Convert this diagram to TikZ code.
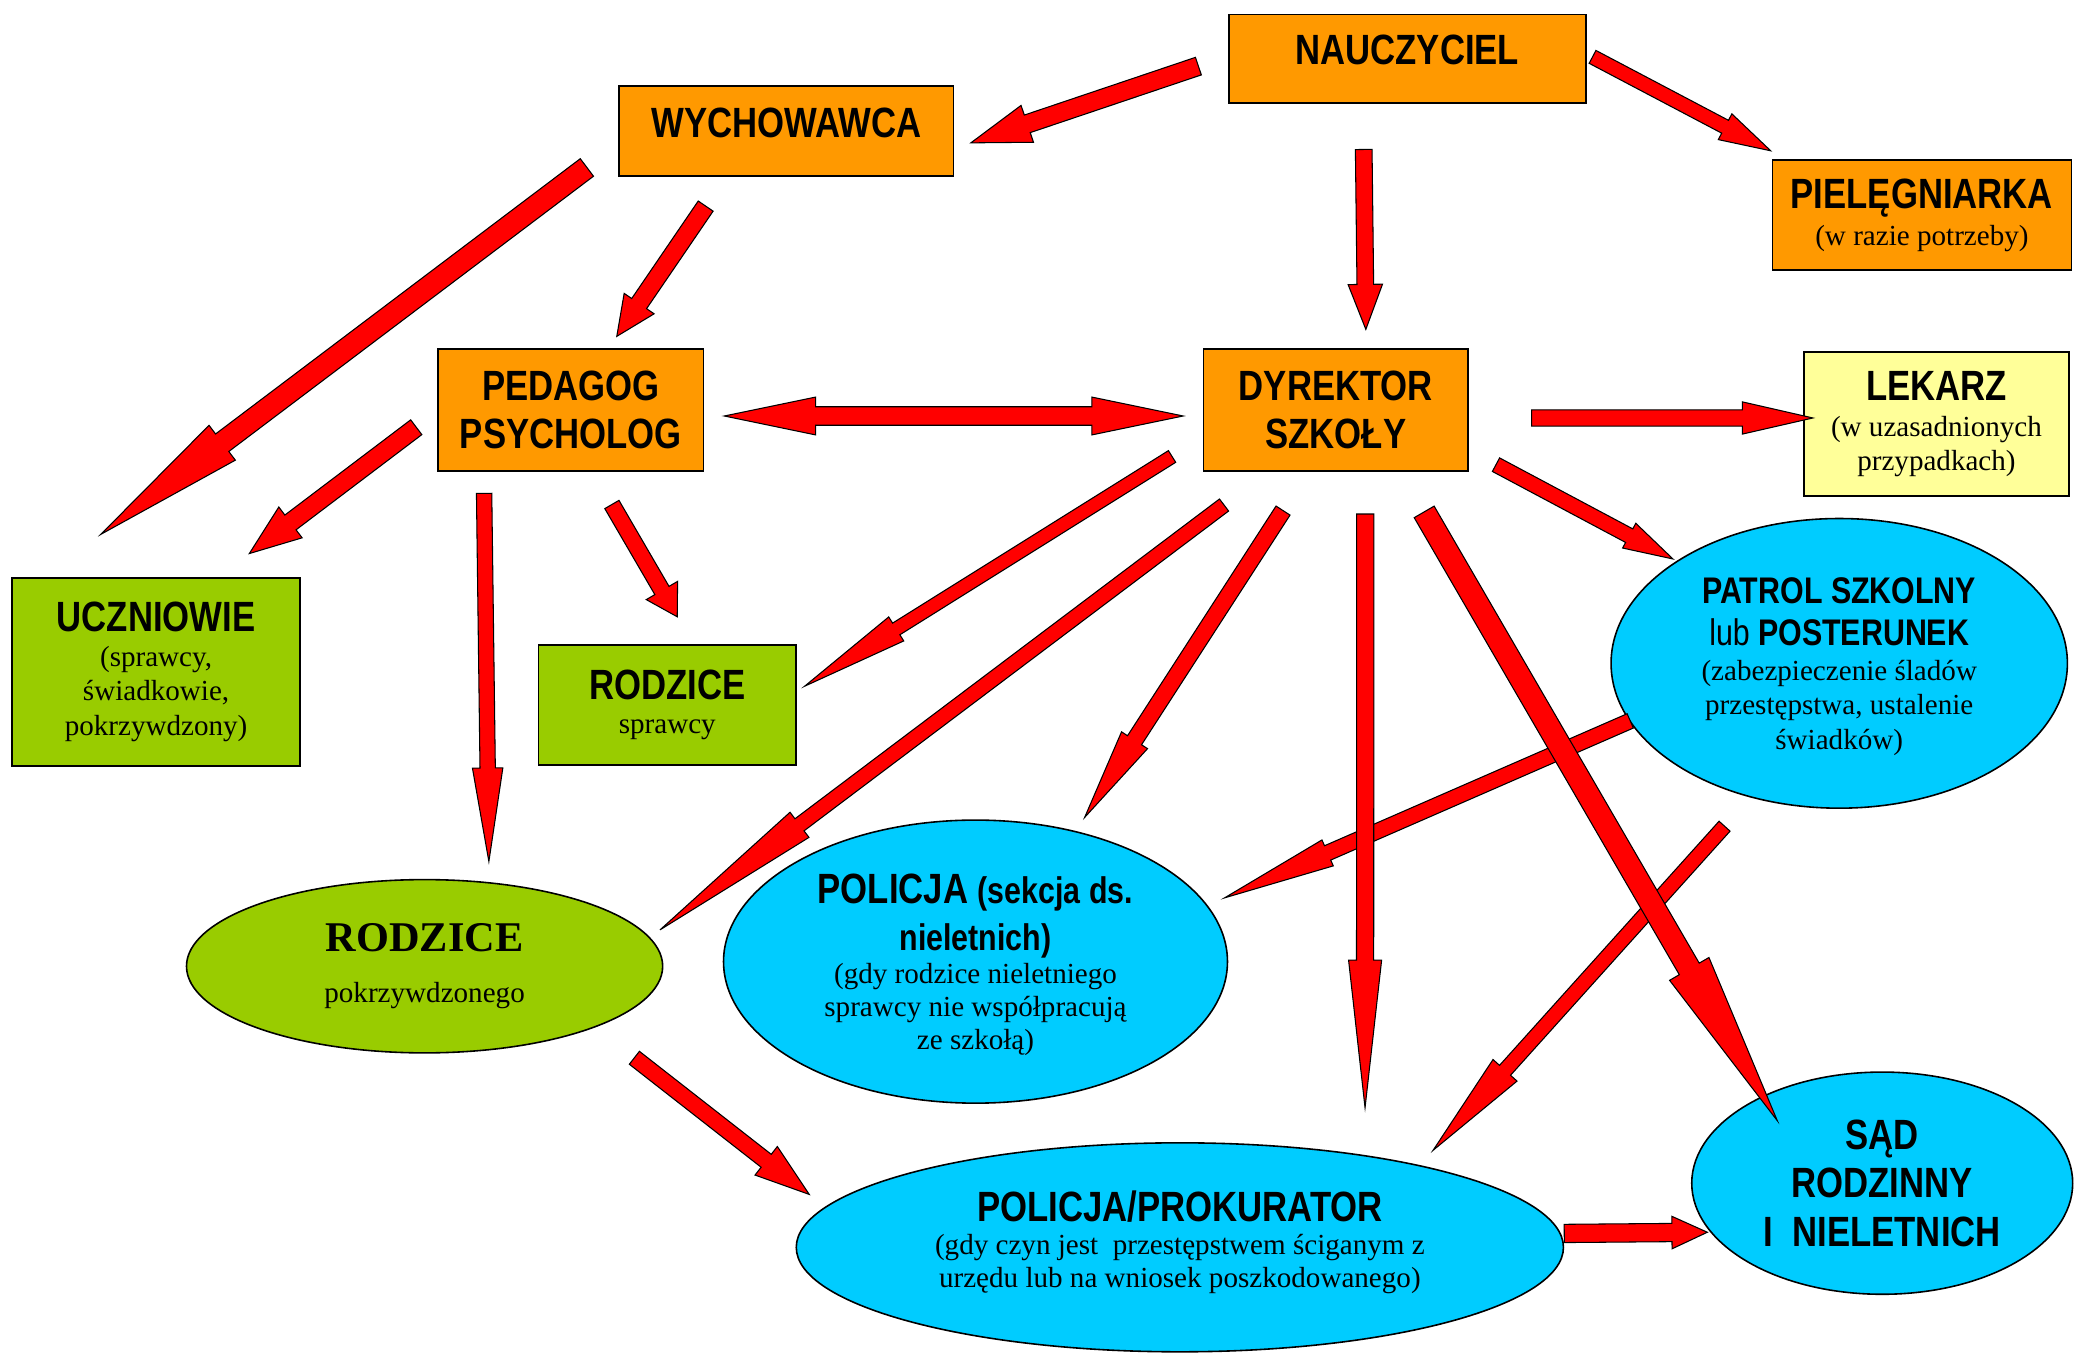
\documentclass[tikz,border=0pt]{standalone}
\usepackage{fontspec}
\setmainfont{Liberation Serif}
\newfontfamily\narrowfont[FakeStretch=0.82]{Liberation Sans}
\usetikzlibrary{calc,shapes.geometric}

\definecolor{porange}{HTML}{FF9900}
\definecolor{pgreen}{HTML}{99CC00}
\definecolor{pyellow}{HTML}{FFFF99}
\definecolor{pcyan}{HTML}{00CCFF}

\tikzset{
  redarrow/.style={draw=black, line width=0.8pt, fill=red},
  rbox/.style={draw, line width=1.2pt, inner sep=0pt, align=center},
  oval/.style={ellipse, draw, line width=1.2pt, inner sep=0pt, align=center},
  ttlfont/.style={font=\narrowfont\bfseries\fontsize{32}{#1}\selectfont},
  ttlfont/.default=26,
}
\newcommand{\sub}{\normalfont\fontsize{22}{25}\selectfont}

% block arrow: tail, tip, shaft half width, head half width, head length
\newcommand{\blockarrow}[5]{%
  \coordinate (ba-h) at ($(#2)!#5!(#1)$);
  \draw[redarrow] ($(#1)!#3!90:(#2)$) -- ($(ba-h)!#3!90:(#2)$) -- ($(ba-h)!#4!90:(#2)$) -- (#2)
    -- ($(ba-h)!#4!-90:(#2)$) -- ($(ba-h)!#3!-90:(#2)$) -- ($(#1)!#3!-90:(#2)$) -- cycle;
}
% block arrow with a head at both ends
\newcommand{\blockarrowtwo}[5]{%
  \coordinate (ba-h1) at ($(#1)!#5!(#2)$);
  \coordinate (ba-h2) at ($(#2)!#5!(#1)$);
  \draw[redarrow] (#1) -- ($(ba-h1)!#4!90:(#2)$) -- ($(ba-h1)!#3!90:(#2)$) -- ($(ba-h2)!#3!90:(#2)$)
    -- ($(ba-h2)!#4!90:(#2)$) -- (#2) -- ($(ba-h2)!#4!-90:(#2)$) -- ($(ba-h2)!#3!-90:(#2)$)
    -- ($(ba-h1)!#3!-90:(#2)$) -- ($(ba-h1)!#4!-90:(#2)$) -- cycle;
}

\begin{document}
\begin{tikzpicture}[x=1pt,y=1pt,yscale=-1]
\useasboundingbox (0,0) rectangle (1568,1023);

%Boxes
\node[rbox, fill=porange, minimum width=270pt, minimum height=67pt, ttlfont, text depth=14pt] (nau) at (1064,44.5) {NAUCZYCIEL};
\node[rbox, fill=porange, minimum width=253pt, minimum height=68pt, ttlfont, text depth=13pt] (wych) at (594.5,99) {WYCHOWAWCA};
\node[rbox, fill=porange, minimum width=226pt, minimum height=83pt, ttlfont=28] (piel) at (1453,162.5) {PIELĘGNIARKA\\{\sub (w razie potrzeby)}};
\node[rbox, fill=porange, minimum width=201pt, minimum height=92pt, ttlfont=36] (ped) at (431.5,310) {PEDAGOG\\PSYCHOLOG};
\node[rbox, fill=porange, minimum width=200pt, minimum height=92pt, ttlfont=36] (dyr) at (1010,310) {DYREKTOR\\SZKOŁY};
\node[rbox, fill=pyellow, minimum width=200pt, minimum height=109pt, ttlfont] (lek) at (1464,320.5) {LEKARZ\\[1pt]{\sub (w uzasadnionych}\\{\sub przypadkach)}};
\node[rbox, fill=pgreen, minimum width=218pt, minimum height=142pt, ttlfont] (ucz) at (118,508) {UCZNIOWIE\\{\sub (sprawcy,}\\{\sub świadkowie,}\\{\sub pokrzywdzony)}};
\node[rbox, fill=pgreen, minimum width=195pt, minimum height=91pt, ttlfont] (rsp) at (504.5,533) {RODZICE\\{\sub sprawcy}};

%Ellipses
\node[oval, fill=pgreen, minimum width=360pt, minimum height=131pt, font=\bfseries\fontsize{32}{39}\selectfont] (rpk) at (321,730.5) {RODZICE\\{\sub pokrzywdzonego}};
\node[oval, fill=pcyan, minimum width=381pt, minimum height=214pt, ttlfont=25, text depth=-19pt] (pol) at (737.5,727) {POLICJA {\fontsize{28}{25}\selectfont(sekcja ds.}\\[8pt]{\fontsize{28}{25}\selectfont nieletnich)}\\{\sub (gdy rodzice nieletniego}\\{\sub sprawcy nie współpracują}\\{\sub ze szkołą)}};
\node[oval, fill=pcyan, minimum width=580pt, minimum height=158pt, ttlfont=25, text depth=12pt] (prok) at (892,943) {POLICJA/PROKURATOR\\{\sub (gdy czyn jest\ \ przestępstwem ściganym z}\\{\sub urzędu lub na wniosek poszkodowanego)}};
\node[oval, fill=pcyan, minimum width=345pt, minimum height=219pt, font=\narrowfont\bfseries\fontsize{28}{26}\selectfont, text depth=-4pt] (patrol) at (1390.5,501.5) {PATROL SZKOLNY\\[6pt]{\mdseries lub} POSTERUNEK\\{\sub (zabezpieczenie śladów}\\{\sub przestępstwa, ustalenie}\\{\sub świadków)}};
\node[oval, fill=pcyan, minimum width=288pt, minimum height=168pt, ttlfont=37, text depth=-13pt] (sad) at (1423,894.5) {SĄD\\RODZINNY\\I\ \ NIELETNICH};

%Arrow ends
\coordinate (nw-a) at (906,50);      \coordinate (nw-b) at (734,108);
\coordinate (np-a) at (1204,43);     \coordinate (np-b) at (1338.7,114);
\coordinate (nd-a) at (1031,113);    \coordinate (nd-b) at (1032.6,249);
\coordinate (wu-a) at (443.7,126.6); \coordinate (wu-b) at (76.2,404);
\coordinate (wp-a) at (533.5,155.8); \coordinate (wp-b) at (466.3,254.3);
\coordinate (pd-a) at (547.6,314.5); \coordinate (pd-b) at (894.5,314.5);
\coordinate (dl-a) at (1158,316);    \coordinate (dl-b) at (1370.6,316);
\coordinate (dt-a) at (1131,351.3);  \coordinate (dt-b) at (1264.8,422.6);
\coordinate (pu-a) at (314.7,323);   \coordinate (pu-b) at (188.5,418.5);
\coordinate (pr-a) at (366,373);     \coordinate (pr-b) at (369.6,651.3);
\coordinate (ps-a) at (462.6,381.4); \coordinate (ps-b) at (512,466.3);
\coordinate (ds-a) at (886.1,345.1); \coordinate (ds-b) at (608.3,518.8);
\coordinate (dr-a) at (925.4,381.8); \coordinate (dr-b) at (499,703);
\coordinate (dp-a) at (970,386);     \coordinate (dp-b) at (820,618);
\coordinate (dk-a) at (1032.2,388.6);\coordinate (dk-b) at (1032,837.5);
\coordinate (dz-a) at (1076.7,387);  \coordinate (dz-b) at (1343.7,847.3);
\coordinate (tp-a) at (1232.5,545);  \coordinate (tp-b) at (925.8,678.8);
\coordinate (tk-a) at (1303.8,624.6);\coordinate (tk-b) at (1083.4,869.7);
\coordinate (rk-a) at (479.6,799.7); \coordinate (rk-b) at (611.8,903);
\coordinate (kz-a) at (1182.6,932.5);\coordinate (kz-b) at (1290.8,931.6);

%Arrows
\blockarrow{tp-a}{tp-b}{5.9pt}{10.7pt}{85pt}
\blockarrow{tk-a}{tk-b}{5.6pt}{12.2pt}{81.4pt}
\blockarrow{nw-a}{nw-b}{7pt}{14.7pt}{45pt}
\blockarrow{np-a}{np-b}{5.5pt}{11pt}{39pt}
\blockarrow{nd-a}{nd-b}{6.3pt}{13pt}{34pt}
\blockarrow{wu-a}{wu-b}{8.3pt}{16.5pt}{115pt}
\blockarrow{wp-a}{wp-b}{6.8pt}{13.7pt}{30pt}
\blockarrowtwo{pd-a}{pd-b}{7pt}{14.3pt}{69pt}
\blockarrow{dl-a}{dl-b}{6.2pt}{12.2pt}{53.4pt}
\blockarrow{dt-a}{dt-b}{5.8pt}{10.6pt}{37.5pt}
\blockarrow{pu-a}{pu-b}{7pt}{14.6pt}{39pt}
\blockarrow{pr-a}{pr-b}{5.8pt}{11.5pt}{70.7pt}
\blockarrow{ps-a}{ps-b}{6.2pt}{13.7pt}{23pt}
\blockarrow{ds-a}{ds-b}{5.2pt}{10.7pt}{81.7pt}
\blockarrow{dr-a}{dr-b}{5.7pt}{11.9pt}{132pt}
\blockarrow{dp-a}{dp-b}{6.3pt}{11.7pt}{69.5pt}
\blockarrow{dk-a}{dk-b}{6.5pt}{12.5pt}{111.7pt}
\blockarrow{dz-a}{dz-b}{8.7pt}{17.2pt}{132.7pt}
\blockarrow{rk-a}{rk-b}{6.2pt}{13.7pt}{41.3pt}
\blockarrow{kz-a}{kz-b}{6.9pt}{12.3pt}{26.8pt}

\end{tikzpicture}
\end{document}
